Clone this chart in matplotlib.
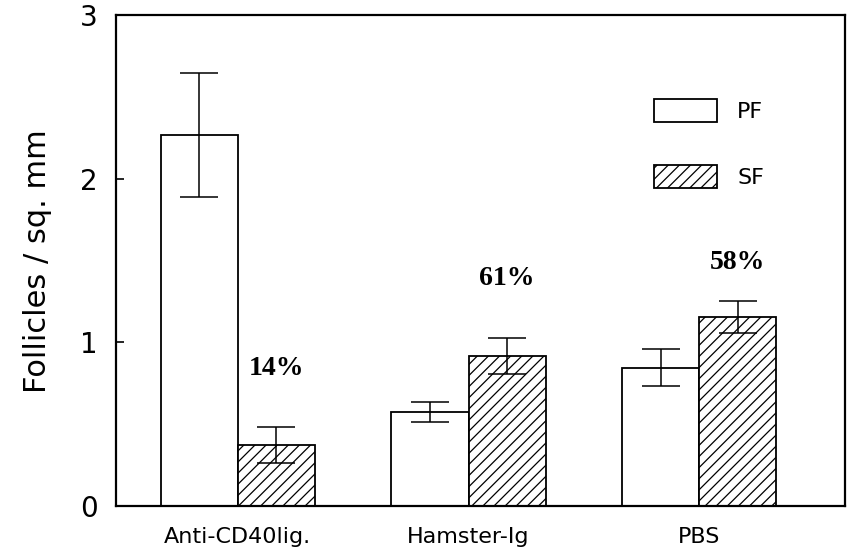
import numpy as np
import matplotlib.pyplot as plt

# --------------------------------
# data
# --------------------------------
groups = ["Anti-CD40lig.", "Hamster-Ig", "PBS"]
pf_mean = [2.27, 0.575, 0.846]
pf_err = [0.38, 0.063, 0.112]
sf_mean = [0.375, 0.918, 1.156]
sf_err = [0.11, 0.109, 0.099]
pct_labels = ["14%", "61%", "58%"]
pct_y = [0.84, 1.39, 1.49]

plt.rcParams["font.family"] = ["DejaVu Sans"]
plt.rcParams["hatch.linewidth"] = 0.9

fig = plt.figure(figsize=(8.48, 5.52), dpi=100)
ax = fig.add_axes([0.1368, 0.0833, 0.8597, 0.8887])

x = np.arange(len(groups))
w = 0.334
ekw = dict(ecolor="black", elinewidth=1.1, capsize=14, capthick=1.1)

ax.bar(x - w / 2, pf_mean, w, yerr=pf_err, color="white", edgecolor="black",
       linewidth=1.3, label="PF", error_kw=ekw)
ax.bar(x + w / 2, sf_mean, w, yerr=sf_err, color="white", edgecolor="black",
       linewidth=1.3, hatch="///", label="SF", error_kw=ekw)

# percentage annotations above SF bars
for xi, txt, yy in zip(x, pct_labels, pct_y):
    ax.text(xi + w / 2, yy, txt, ha="center", va="center",
            fontsize=20, fontweight="bold", family="Liberation Serif")

ax.set_xlim(-0.527, 2.631)
ax.set_ylim(0, 3)
ax.set_yticks([0, 1, 2, 3])
ax.set_xticks(x)
ax.set_xticklabels(groups, fontsize=16)
ax.tick_params(axis="x", length=0, pad=15)
ax.tick_params(axis="y", direction="in", length=6, width=1.2, labelsize=20, pad=13)
ax.set_ylabel("Follicles / sq. mm", fontsize=22, labelpad=20)
for s in ax.spines.values():
    s.set_linewidth(1.6)

ax.legend(loc="upper left", bbox_to_anchor=(0.738, 0.83), frameon=False,
          fontsize=16, handlelength=2.84, handleheight=1.2,
          labelspacing=1.95, borderpad=0, borderaxespad=0, handletextpad=0.9)

plt.savefig("out.png", dpi=100)
